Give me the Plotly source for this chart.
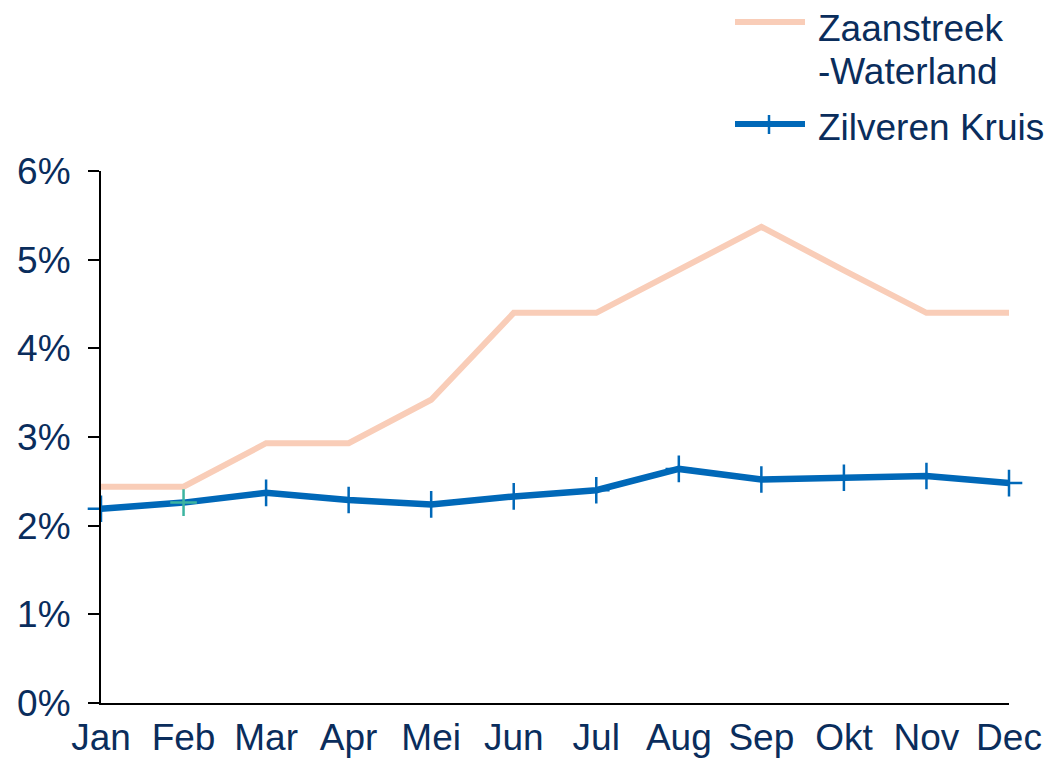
import plotly.graph_objects as go

months = ["Jan", "Feb", "Mar", "Apr", "Mei", "Jun", "Jul", "Aug", "Sep", "Okt", "Nov", "Dec"]
zaanstreek = [2.44, 2.44, 2.93, 2.93, 3.42, 4.40, 4.40, 4.89, 5.37, 4.88, 4.40, 4.40]
zilveren = [2.19, 2.26, 2.37, 2.29, 2.24, 2.33, 2.40, 2.64, 2.52, 2.54, 2.56, 2.48]
zk_marker_colors = ["#0068b8", "#3cb4a0"] + ["#0068b8"] * 10
yticks = [0, 1, 2, 3, 4, 5, 6]
ytext = ["0%", "1%", "2%", "3%", "4%", "5%", "6%"]

navy = "#0a2d5c"
peach = "#f9cdb8"
blue = "#0068b8"
FS = 37

fig = go.Figure()
fig.add_trace(go.Scatter(
    x=months, y=zaanstreek, name="Zaanstreek -Waterland", mode="lines",
    line=dict(color=peach, width=6), cliponaxis=False,
))
fig.add_trace(go.Scatter(
    x=months, y=zilveren, name="Zilveren Kruis", mode="lines+markers",
    line=dict(color=blue, width=6.5), cliponaxis=False,
    marker=dict(symbol="cross-thin", size=19, line=dict(color=zk_marker_colors, width=2.5),
                color=zk_marker_colors),
))

# manual legend (paper coordinates relative to plot area)
def px_x(p):
    return (p - 101) / 908

def px_y(p):
    return (703 - p) / 532

shapes = [
    dict(type="line", xref="paper", yref="paper", x0=px_x(735), x1=px_x(805), y0=px_y(22), y1=px_y(22),
         line=dict(color=peach, width=6)),
    dict(type="line", xref="paper", yref="paper", x0=px_x(735), x1=px_x(805), y0=px_y(124), y1=px_y(124),
         line=dict(color=blue, width=6)),
    dict(type="line", xref="paper", yref="paper", x0=px_x(769), x1=px_x(769), y0=px_y(115), y1=px_y(134),
         line=dict(color=blue, width=2.5)),
]
annotations = [
    dict(xref="paper", yref="paper", x=px_x(816), y=px_y(28), text="Zaanstreek", showarrow=False,
         xanchor="left", yanchor="middle", font=dict(size=FS, color=navy)),
    dict(xref="paper", yref="paper", x=px_x(816), y=px_y(72), text="-Waterland", showarrow=False,
         xanchor="left", yanchor="middle", font=dict(size=FS, color=navy)),
    dict(xref="paper", yref="paper", x=px_x(816), y=px_y(127), text="Zilveren Kruis", showarrow=False,
         xanchor="left", yanchor="middle", font=dict(size=FS, color=navy)),
]

fig.update_layout(
    width=1048, height=758,
    margin=dict(l=101, r=39, t=171, b=55, autoexpand=False),
    paper_bgcolor="white", plot_bgcolor="white",
    font=dict(family="Liberation Sans, Arial, sans-serif", size=FS, color=navy),
    showlegend=False,
    shapes=shapes, annotations=annotations,
    xaxis=dict(range=[0, 11], showgrid=False, showline=True, linecolor="black", linewidth=2,
               ticks="", tickfont=dict(size=FS, color=navy), zeroline=False, automargin=False,
               ticklabelstandoff=1),
    yaxis=dict(range=[0, 6], tickvals=yticks, ticktext=ytext, showgrid=False, showline=True,
               linecolor="black", linewidth=2, ticks="outside", ticklen=11, tickwidth=2,
               tickcolor="black", tickfont=dict(size=FS, color=navy), zeroline=False,
               automargin=False, ticklabelstandoff=10),
)
fig.write_html(
    "out.html",
    config={"displayModeBar": False},
    post_script="document.body.style.margin='0';document.body.style.overflow='hidden';",
)
